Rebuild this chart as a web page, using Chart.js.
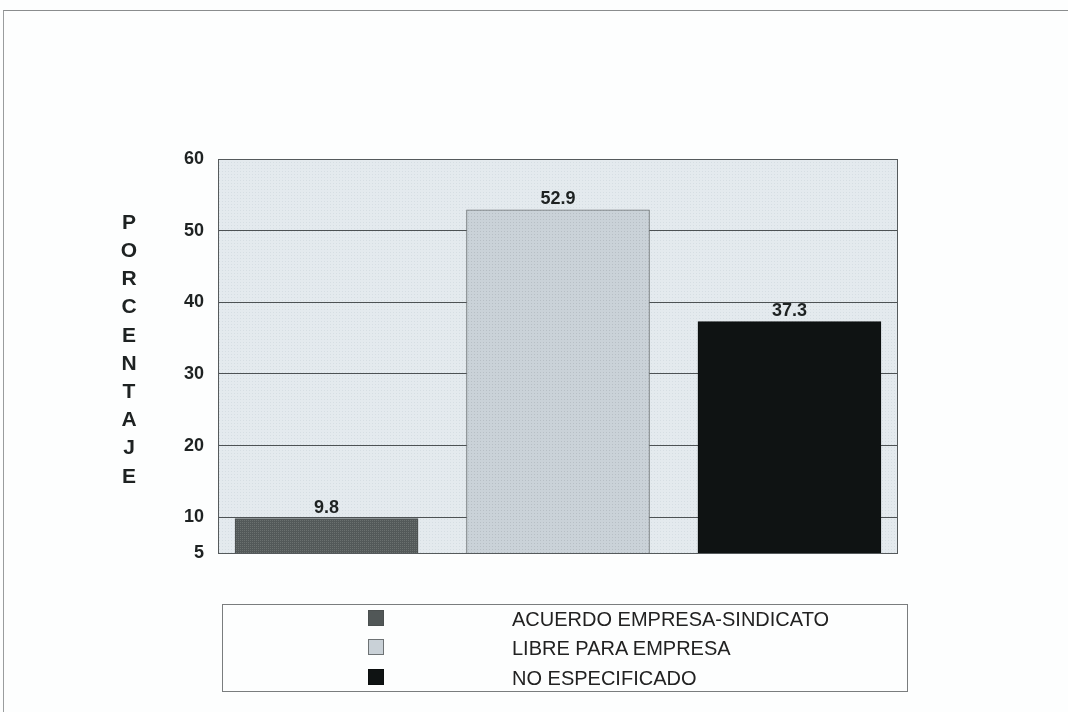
<!DOCTYPE html>
<html lang="es">
<head>
    <meta charset="UTF-8">
    <title>Porcentaje</title>
    <script src="https://cdn.jsdelivr.net/npm/chart.js"></script>
    <style>
        html, body { margin: 0; padding: 0; background: #fdfefe; }
        .wrap { position: relative; width: 1068px; height: 712px; overflow: hidden; }
        .frame { position: absolute; left: 3px; top: 10px; right: -2px; bottom: -2px;
                 border-top: 1px solid #8a8d8e; border-left: 1px solid #9a9d9e; }
        #porcentajeChart { position: absolute; left: 0; top: 0; }
        .legend { position: absolute; left: 222px; top: 604px; width: 686px; height: 88px;
                  border: 1px solid #7a7d7e; box-sizing: border-box;
                  font-family: "Liberation Sans", Arial, sans-serif; font-size: 20px; color: #222; }
        .legend .row { position: absolute; left: 0; height: 30px; width: 100%; }
        .legend .sw { position: absolute; left: 145px; top: 5px; width: 16px; height: 16px; box-sizing: border-box; }
        .legend .txt { position: absolute; left: 289px; top: 3px; line-height: 22px; white-space: nowrap; }
    </style>
</head>
<body>
    <div class="wrap">
        <div class="frame"></div>
        <canvas id="porcentajeChart" width="1068" height="712"></canvas>
        <div class="legend" id="legend"></div>
    </div>

    <script>
        // categorias y valores (%)
        const categorias = ['ACUERDO EMPRESA-SINDICATO', 'LIBRE PARA EMPRESA', 'NO ESPECIFICADO'];
        const valores = [9.8, 52.9, 37.3];
        const ticksY = [5, 10, 20, 30, 40, 50, 60];
        const tituloY = 'PORCENTAJE';

        const coloresBarra = ['#515757', '#c9d1d7', '#0f1313'];
        const bordesBarra = ['#4a4f4f', '#6d7274', '#0b0e0e'];

        // trama de puntos para imitar el sombreado de las barras
        function trama(base, punto, paso) {
            const c = document.createElement('canvas');
            c.width = paso; c.height = paso;
            const g = c.getContext('2d');
            g.fillStyle = base;
            g.fillRect(0, 0, paso, paso);
            g.fillStyle = punto;
            g.fillRect(0, 0, 1, 1);
            return g.createPattern(c, 'repeat');
        }

        // leyenda en html
        const legendEl = document.getElementById('legend');
        categorias.forEach((cat, i) => {
            const row = document.createElement('div');
            row.className = 'row';
            row.style.top = Math.floor(i * 29.5) + 'px';
            row.innerHTML = `<div class="sw" style="background:${coloresBarra[i]};border:1px solid ${bordesBarra[i]}"></div>
                             <div class="txt">${cat}</div>`;
            legendEl.appendChild(row);
        });

        // fondo y marco del area de trazado
        const plotArea = {
            id: 'plotArea',
            beforeDraw(chart) {
                const { ctx, chartArea: a } = chart;
                ctx.save();
                ctx.fillStyle = trama('#e4eaee', '#d6dee3', 3);
                ctx.fillRect(a.left, a.top, a.right - a.left, a.bottom - a.top);
                ctx.restore();
            },
            afterDraw(chart) {
                const { ctx, chartArea: a } = chart;
                ctx.save();
                ctx.strokeStyle = '#555a5c';
                ctx.lineWidth = 1;
                ctx.strokeRect(a.left + 0.5, a.top + 0.5, a.right - a.left - 1, a.bottom - a.top);
                ctx.restore();
            }
        };

        // valores encima de las barras
        const barLabels = {
            id: 'barLabels',
            afterDatasetsDraw(chart) {
                const { ctx } = chart;
                const meta = chart.getDatasetMeta(0);
                ctx.save();
                ctx.font = 'bold 18px "Liberation Sans", Arial, sans-serif';
                ctx.fillStyle = '#1e2222';
                ctx.textAlign = 'center';
                ctx.textBaseline = 'bottom';
                meta.data.forEach((bar, i) => {
                    ctx.fillText(valores[i].toFixed(1), bar.x, bar.y - 2);
                });
                ctx.restore();
            }
        };

        // titulo vertical, una letra por linea
        const tituloVertical = {
            id: 'tituloVertical',
            afterDraw(chart) {
                const { ctx } = chart;
                ctx.save();
                ctx.font = 'bold 21px "Liberation Sans", Arial, sans-serif';
                ctx.fillStyle = '#1e2222';
                ctx.textAlign = 'center';
                ctx.textBaseline = 'middle';
                tituloY.split('').forEach((ch, i) => {
                    ctx.fillText(ch, 129, 223 + i * 28.2);
                });
                ctx.restore();
            }
        };

        const ctx = document.getElementById('porcentajeChart').getContext('2d');
        const rellenos = [
            trama('#535959', '#6a706f', 2),
            trama('#cad2d8', '#b7bfc5', 3),
            coloresBarra[2]
        ];

        new Chart(ctx, {
            type: 'bar',
            data: {
                labels: categorias,
                datasets: [{
                    data: valores.map((v, i) => ({ x: i, y: v })),
                    backgroundColor: rellenos,
                    borderColor: bordesBarra,
                    borderWidth: 1,
                    barThickness: 183
                }]
            },
            options: {
                responsive: false,
                animation: false,
                layout: { padding: { left: 0, top: 159, right: 170, bottom: 159 } },
                plugins: {
                    legend: { display: false },
                    tooltip: { enabled: false }
                },
                scales: {
                    x: { type: 'linear', display: false, min: -0.469, max: 2.469, offset: false },
                    y: {
                        min: 5,
                        max: 60,
                        afterBuildTicks(scale) {
                            scale.ticks = ticksY.map(v => ({ value: v }));
                        },
                        afterFit(scale) {
                            scale.width = 218;
                        },
                        border: { display: false },
                        grid: {
                            color: '#4d5254',
                            lineWidth: 1,
                            drawTicks: false
                        },
                        ticks: {
                            padding: 14,
                            color: '#1e2222',
                            font: { family: '"Liberation Sans", Arial, sans-serif', size: 18, weight: 'bold' }
                        }
                    }
                }
            },
            plugins: [plotArea, barLabels, tituloVertical]
        });
    </script>
</body>
</html>
